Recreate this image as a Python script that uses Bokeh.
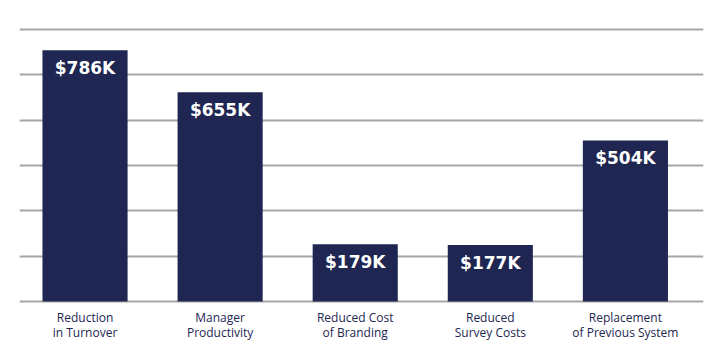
from bokeh.plotting import figure
from bokeh.models import ColumnDataSource, FixedTicker, Range1d
from bokeh.core.properties import value
from bokeh.embed import file_html
from bokeh.resources import INLINE

categories = ["Reduction\nin Turnover", "Manager\nProductivity", "Reduced Cost\nof Branding",
              "Reduced\nSurvey Costs", "Replacement\nof Previous System"]
values = [786, 655, 179, 177, 504]
labels = ["$786K", "$655K", "$179K", "$177K", "$504K"]
grid_ticks = [0, 142, 284, 426, 568, 710, 852]

BAR = "#1e2651"
GRID = "#a6a6a6"

xs = list(range(len(categories)))
src = ColumnDataSource(dict(x=xs, top=values, label=labels))

s = 0.3195
p = figure(width=720, height=350, output_backend="svg", toolbar_location=None,
           x_range=Range1d(-0.485, 4.578), y_range=Range1d(-3 / s, 281 / s),
           min_border_left=19, min_border_right=17, min_border_top=20, min_border_bottom=46)
p.outline_line_color = None
p.background_fill_color = "white"
p.border_fill_color = "white"

p.vbar(x="x", top="top", bottom=0, width=0.63, source=src, color=BAR, line_color=None)
p.text(x="x", y="top", text="label", source=src, text_color="white",
       text_font=value("DejaVu Sans"), text_font_style="bold", text_font_size="17px",
       text_align="center", text_baseline="middle", y_offset=18)

p.xgrid.grid_line_color = None
p.ygrid.grid_line_color = GRID
p.ygrid.grid_line_width = 2
p.yaxis.ticker = FixedTicker(ticks=grid_ticks)
p.yaxis.visible = False

p.xaxis.ticker = FixedTicker(ticks=xs)
p.xaxis.major_label_overrides = {i: c for i, c in zip(xs, categories)}
p.xaxis.axis_line_color = None
p.xaxis.major_tick_line_color = None
p.xaxis.minor_tick_line_color = None
p.xaxis.major_tick_out = 0
p.xaxis.major_tick_in = 0
p.xaxis.major_label_standoff = 4
p.xaxis.major_label_text_font = "Open Sans"
p.xaxis.major_label_text_font_size = "12px"
p.xaxis.major_label_text_color = "#1e2651"
p.xaxis.major_label_text_line_height = 0.9

open("out.html", "w").write(file_html(p, INLINE))
